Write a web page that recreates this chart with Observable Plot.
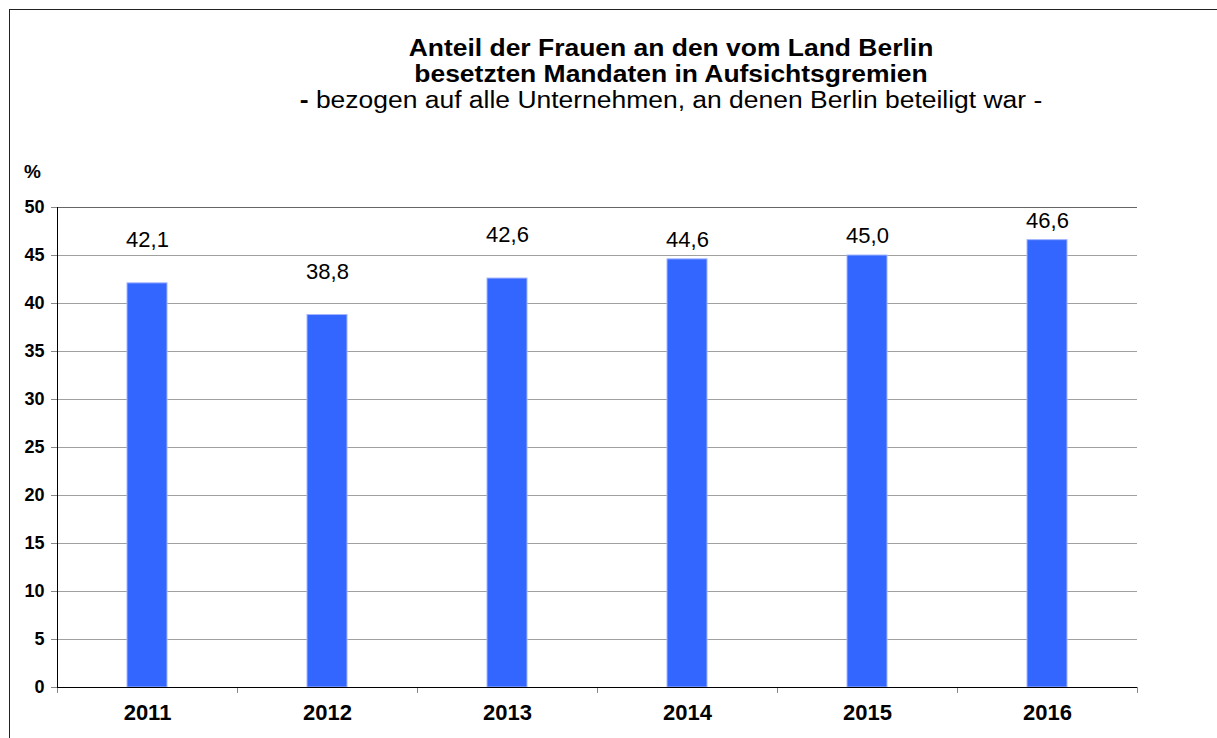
<!DOCTYPE html>
<html><head><meta charset="utf-8">
<script src="https://cdn.jsdelivr.net/npm/d3@7"></script>
<script src="https://cdn.jsdelivr.net/npm/@observablehq/plot@0.6"></script>
<style>
body{margin:0;background:#fff;font-family:"Liberation Sans",Arial,sans-serif;}
#wrap{position:relative;width:1217px;height:738px;overflow:hidden;background:#fff;}
#frame{position:absolute;left:9px;top:9px;width:1300px;height:800px;border-left:1px solid #222;border-top:1px solid #222;}
.t{position:absolute;left:0;width:1342px;text-align:center;white-space:nowrap;color:#000;line-height:1;transform:scaleX(1.15);}
#pct{position:absolute;left:24px;top:162px;font-weight:bold;font-size:19px;line-height:1;}
#chart{position:absolute;left:0;top:150px;}
</style></head><body>
<div id="wrap">
<div id="frame"></div>
<div class="t" style="top:37px;font-weight:bold;font-size:23px">Anteil der Frauen an den vom Land Berlin</div>
<div class="t" style="top:63px;font-weight:bold;font-size:23px">besetzten Mandaten in Aufsichtsgremien</div>
<div class="t" style="top:89px;font-size:23px"><b>-</b> bezogen auf alle Unternehmen, an denen Berlin beteiligt war -</div>
<div id="pct">%</div>
<div id="chart"></div>
</div>
<script>
const years = ["2011", "2012", "2013", "2014", "2015", "2016"];
const values = [42.1, 38.8, 42.6, 44.6, 45.0, 46.6];
const yTicks = [0, 5, 10, 15, 20, 25, 30, 35, 40, 45, 50];

const data = years.map((year, i) => ({year, value: values[i], i}));
const fmt = v => v.toFixed(1).replace(".", ",");

const plot = Plot.plot({
  width: 1217,
  height: 588,
  marginLeft: 57,
  marginRight: 80,
  marginTop: 57,
  marginBottom: 51,
  style: {fontFamily: "'Liberation Sans', Arial, sans-serif", background: "transparent", color: "#000", overflow: "visible"},
  x: {domain: [0, years.length]},
  y: {domain: [0, 50]},
  marks: [
    Plot.ruleY(yTicks.filter(t => t > 0 && t < 50), {stroke: "#a0a0a0"}),
    Plot.ruleY([50], {stroke: "#666"}),
    Plot.rectY(data, {x1: "i", x2: d => d.i + 1, y1: 0, y2: "value", insetLeft: 70, insetRight: 70, fill: "#3366ff", stroke: "#a3b5ff", strokeWidth: 1}),
    Plot.axisY({ticks: yTicks, label: null, tickSize: 6, tickPadding: 7, fontSize: 18, fontWeight: "bold", stroke: "#888", fill: "#000", tickFormat: d => String(d)}),
    Plot.axisX({ticks: d3.range(0, years.length + 1), label: null, tickSize: 6, stroke: "#888", tickFormat: () => ""}),
    Plot.axisX({ticks: years.map((_, i) => i + 0.5), label: null, tickSize: 0, tickPadding: 17, fontSize: 22, fontWeight: "bold", fill: "#000", tickFormat: t => years[Math.round(t - 0.5)]}),
    Plot.ruleX([0], {stroke: "#000"}),
    Plot.ruleY([0], {stroke: "#000"}),
    Plot.text(data, {x: d => d.i + 0.5, y: d => d.value + (d.value < 44 ? 4.5 : 2), text: d => fmt(d.value), fontSize: 22, fill: "#000"})
  ]
});
document.getElementById("chart").appendChild(plot);
</script>
</body></html>
